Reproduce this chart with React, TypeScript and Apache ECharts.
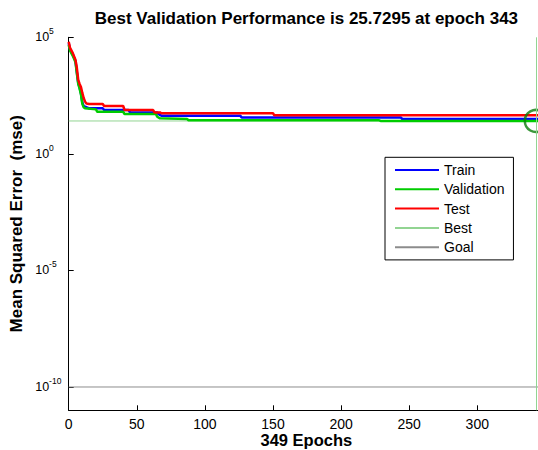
import React, { useEffect, useRef } from 'react';
import * as echarts from 'echarts';

const titleText = 'Best Validation Performance is 25.7295 at epoch 343';
const xAxisName = '349 Epochs';
const yAxisName = 'Mean Squared Error  (mse)';
const xTicks = [0, 50, 100, 150, 200, 250, 300];
const yTicks = [1e-10, 1e-5, 1, 1e5];
const xMax = 349;
const yMin = 1e-11;
const yMax = 1e5;
const bestEpoch = 343;
const bestPerf = 25.7295;
const goalValue = 1e-10;

const trainData: [number, number][] = [
  [0, 56000], [1, 30000], [3, 18600], [5, 9500], [6, 3200], [7, 1100], [8, 700],
  [9, 400], [10, 160], [11, 112], [13, 100], [15, 90], [25, 90], [26, 76], [44, 76],
  [45, 60], [65, 60], [66, 50], [68, 43.5], [126, 43.5], [127, 36], [244, 36],
  [245, 31], [349, 31],
];

const validationData: [number, number][] = [
  [0, 47000], [1, 27000], [3, 16000], [5, 8500], [6, 2800], [7, 1000], [8, 630],
  [9, 355], [10, 141], [11, 100], [12, 90], [20, 81], [21, 64], [40, 64], [41, 51],
  [64, 51], [65, 39], [67, 33.5], [87, 31], [88, 27.5], [228, 27.5], [229, 25.8],
  [343, 25.7295], [349, 26.2],
];

const testData: [number, number][] = [
  [0, 65000], [1, 35000], [3, 21000], [5, 10700], [6, 4800], [7, 1480], [8, 1000],
  [9, 740], [10, 410], [11, 250], [12, 174], [13, 144], [15, 137], [25, 137],
  [26, 113], [40, 113], [41, 76], [62, 76], [63, 60], [67, 60], [68, 55], [150, 55],
  [151, 45], [349, 45],
];

const bestLineData: [number, number][] = [[0, bestPerf], [xMax, bestPerf]];
const goalLineData: [number, number][] = [[0, goalValue], [xMax, goalValue]];
const bestPointData: [number, number][] = [[bestEpoch, bestPerf]];

const FONT = '"Liberation Sans", Arial, Helvetica, sans-serif';

export default function App() {
  const ref = useRef<HTMLDivElement>(null);

  useEffect(() => {
    if (!ref.current) return;
    const chart = echarts.init(ref.current, undefined, { renderer: 'svg' });
    const option: any = {
      animation: false,
      backgroundColor: '#ffffff',
      textStyle: { fontFamily: FONT },
      title: {
        text: titleText,
        left: 306.4,
        top: 10,
        textAlign: 'center',
        padding: 0,
        textStyle: { fontFamily: FONT, fontSize: 17, fontWeight: 'bold', color: '#000' },
      },
      grid: { left: 68.7, top: 37.3, width: 475.3, height: 373, outerBoundsMode: 'none', containLabel: false },
      legend: {
        orient: 'vertical',
        left: 385,
        top: 157.3,
        itemWidth: 44,
        itemHeight: 14,
        itemGap: 5.3,
        padding: [5.7, 9, 5.7, 9],
        borderColor: '#000',
        borderWidth: 1,
        backgroundColor: '#fff',
        itemStyle: { opacity: 0 },
        textStyle: { fontFamily: FONT, fontSize: 14, color: '#000' },
        data: ['Train', 'Validation', 'Test', 'Best', 'Goal'],
      },
      xAxis: {
        type: 'value',
        min: 0,
        max: xMax,
        name: xAxisName,
        nameLocation: 'middle',
        nameGap: 21,
        nameMoveOverlap: false,
        nameTextStyle: { fontFamily: FONT, fontSize: 16.5, fontWeight: 'bold', color: '#000' },
        axisLine: { show: true, lineStyle: { color: '#000', width: 1 } },
        axisTick: { show: true, inside: true, length: 5, lineStyle: { color: '#000' }, customValues: xTicks },
        axisLabel: { fontFamily: FONT, fontSize: 14, color: '#000', margin: 6.5, customValues: xTicks },
        splitLine: { show: false },
      },
      yAxis: {
        type: 'log',
        logBase: 10,
        min: yMin,
        max: yMax,
        name: yAxisName,
        nameLocation: 'middle',
        nameGap: 44,
        nameMoveOverlap: false,
        nameRotate: 90,
        nameTextStyle: { fontFamily: FONT, fontSize: 17, fontWeight: 'bold', color: '#000' },
        axisLine: { show: true, lineStyle: { color: '#000', width: 1 } },
        axisTick: { show: true, inside: true, length: 5, lineStyle: { color: '#000' }, customValues: yTicks },
        axisLabel: {
          customValues: yTicks,
          align: 'left',
          margin: 33.5,
          formatter: (v: number) => `{b|10}{s|${Math.round(Math.log10(v))}}`,
          rich: {
            b: { fontFamily: FONT, fontSize: 12.5, lineHeight: 12, color: '#000', verticalAlign: 'middle' },
            s: { fontFamily: FONT, fontSize: 8.5, lineHeight: 8, color: '#000', padding: [0, 0, 12, 0], verticalAlign: 'middle' },
          },
        },
        splitLine: { show: false },
      },
      series: [
        {
          name: 'Best',
          type: 'line',
          data: bestLineData,
          symbol: 'none',
          lineStyle: { color: '#92d492', width: 1 },
          itemStyle: { color: '#92d492' },
          markLine: {
            silent: true,
            symbol: ['none', 'none'],
            label: { show: false },
            lineStyle: { color: '#92d492', width: 1, type: 'solid' },
            data: [{ xAxis: bestEpoch }],
          },
          z: 1,
        },
        {
          name: 'Goal',
          type: 'line',
          data: goalLineData,
          symbol: 'none',
          lineStyle: { color: '#8c8c8c', width: 1 },
          itemStyle: { color: '#8c8c8c' },
          z: 1,
        },
        {
          name: 'Train',
          type: 'line',
          data: trainData,
          symbol: 'none',
          lineStyle: { color: '#0000ff', width: 2.5 },
          itemStyle: { color: '#0000ff' },
          z: 2,
        },
        {
          name: 'Validation',
          type: 'line',
          data: validationData,
          symbol: 'none',
          lineStyle: { color: '#00cc00', width: 2.5 },
          itemStyle: { color: '#00cc00' },
          z: 2,
        },
        {
          name: 'Test',
          type: 'line',
          data: testData,
          symbol: 'none',
          lineStyle: { color: '#ff0000', width: 2.5 },
          itemStyle: { color: '#ff0000' },
          z: 3,
        },
        {
          name: 'bestPoint',
          type: 'scatter',
          data: bestPointData,
          symbol: 'circle',
          symbolSize: 22,
          itemStyle: { color: 'rgba(0,0,0,0)', borderColor: '#0a7d0a', borderWidth: 2.5 },
          z: 4,
        },
      ],
    };
    chart.setOption(option);
    return () => chart.dispose();
  }, []);

  return (
    <div
      ref={ref}
      style={{ position: 'absolute', left: 0, top: 0, width: 538, height: 450 }}
    />
  );
}
